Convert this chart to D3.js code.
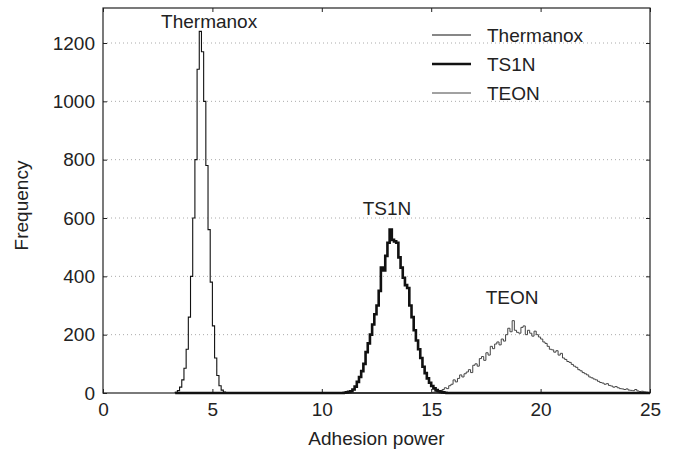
<!DOCTYPE html>
<html><head><meta charset="utf-8">
<script src="https://cdn.jsdelivr.net/npm/d3@7"></script>
<style>body{margin:0;background:#fff}svg{display:block}text{font-family:"Liberation Sans",Arial,sans-serif;fill:#222}</style>
</head><body><svg id="c" width="676" height="455"></svg>
<script>
const binWidth = 0.1;
const seriesNames = ["Thermanox", "TS1N", "TEON"];
const thermanoxStart = 3.3;
const thermanox = [2,8,20,45,85,150,260,400,600,800,1110,1240,1170,1000,780,560,380,230,120,60,25,10,3];
const ts1nStart = 11.0;
const ts1n = [1,2,4,6,12,22,38,55,75,100,140,170,200,235,270,300,350,430,420,470,515,560,525,520,515,465,430,395,370,360,300,260,215,180,150,120,90,68,50,35,24,16,10,6,4,2,1];
const teonStart = 15.0;
const teon = [2,3,5,4,8,12,18,15,25,30,45,38,50,62,55,66,72,80,70,95,100,92,118,125,112,138,130,160,152,168,175,165,185,178,200,222,210,248,215,208,205,225,230,200,215,205,195,212,200,192,185,175,170,160,150,148,140,145,130,136,120,115,108,105,98,92,88,80,76,70,66,62,55,52,48,45,40,36,34,30,32,26,24,20,22,18,15,14,12,14,10,9,8,12,7,5,6,4,3,2];
const xTicks = [0,5,10,15,20,25];
const yTicks = [0,200,400,600,800,1000,1200];
const xDomain = [0,25];
const yDomain = [0,1320];
const baseRange = [3.3,25];
const labels = [{name:"Thermanox", x:4.85, y:1250}, {name:"TS1N", x:12.98, y:612}, {name:"TEON", x:18.7, y:305}];

const svg = d3.select("#c");
const L=103, T=8, R=650, B=393;
const x = d3.scaleLinear().domain(xDomain).range([L,R]);
const y = d3.scaleLinear().domain(yDomain).range([B,T]);

// grid
svg.append("g").selectAll("line").data(yTicks.filter(d=>d>0)).join("line")
  .attr("x1",L).attr("x2",R).attr("y1",d=>y(d)).attr("y2",d=>y(d))
  .attr("stroke","#aaa").attr("stroke-width",1).attr("stroke-dasharray","1,3");

// axes
const fs = "19px";
const ax = svg.append("g").attr("transform",`translate(0,${B})`).call(d3.axisBottom(x).tickValues(xTicks).tickFormat(d3.format("d")).tickSizeInner(-4).tickSizeOuter(0).tickPadding(10));
const ay = svg.append("g").attr("transform",`translate(${L},0)`).call(d3.axisLeft(y).tickValues(yTicks).tickFormat(d3.format("d")).tickSizeInner(-4).tickSizeOuter(0).tickPadding(8));
const at = svg.append("g").attr("transform",`translate(0,${T})`).call(d3.axisTop(x).tickValues(xTicks).tickSizeInner(-4).tickSizeOuter(0).tickFormat(""));
const ar = svg.append("g").attr("transform",`translate(${R},0)`).call(d3.axisRight(y).tickValues(yTicks).tickSizeInner(-4).tickSizeOuter(0).tickFormat(""));
[ax,ay,at,ar].forEach(g=>{g.select(".domain").remove();g.selectAll("line").attr("stroke","#222");g.selectAll("text").attr("font-size",fs).attr("fill","#222").attr("font-family","Liberation Sans, Arial, sans-serif");});
svg.append("rect").attr("x",L).attr("y",T).attr("width",R-L).attr("height",B-T).attr("fill","none").attr("stroke","#222").attr("stroke-width",1.2);

function stepPath(start, vals){
  const pts=[[baseRange[0],0],[start,0]];
  vals.forEach((v,i)=>{const x0=start+i*binWidth; pts.push([x0,v],[x0+binWidth,v]);});
  const end=start+vals.length*binWidth;
  pts.push([end,0],[baseRange[1],0]);
  return d3.line().x(d=>x(d[0])).y(d=>y(d[1]))(pts);
}
const styles = {Thermanox:{c:"#111",w:1.1}, TS1N:{c:"#111",w:2.6}, TEON:{c:"#444",w:1}};
const data = {Thermanox:[thermanoxStart,thermanox], TS1N:[ts1nStart,ts1n], TEON:[teonStart,teon]};
["TEON","Thermanox","TS1N"].forEach(n=>{
  svg.append("path").attr("d",stepPath(data[n][0],data[n][1])).attr("fill","none")
    .attr("stroke",styles[n].c).attr("stroke-width",styles[n].w).attr("stroke-linejoin","miter");
});

// annotations
svg.append("g").selectAll("text").data(labels).join("text")
  .attr("x",d=>x(d.x)).attr("y",d=>y(d.y)).attr("text-anchor","middle").attr("font-size",fs).text(d=>d.name);

// legend
const lg = svg.append("g");
seriesNames.forEach((n,i)=>{
  const yy = 35 + i*29;
  lg.append("line").attr("x1",432).attr("x2",471).attr("y1",yy).attr("y2",yy).attr("stroke",styles[n].c).attr("stroke-width",styles[n].w);
  lg.append("text").attr("x",487).attr("y",yy+7).attr("font-size",fs).text(n);
});

// axis titles
svg.append("text").attr("x",(L+R)/2).attr("y",445).attr("text-anchor","middle").attr("font-size",fs).text("Adhesion power");
svg.append("text").attr("transform",`translate(28,${(T+B)/2+5}) rotate(-90)`).attr("text-anchor","middle").attr("font-size",fs).text("Frequency");
</script></body></html>
